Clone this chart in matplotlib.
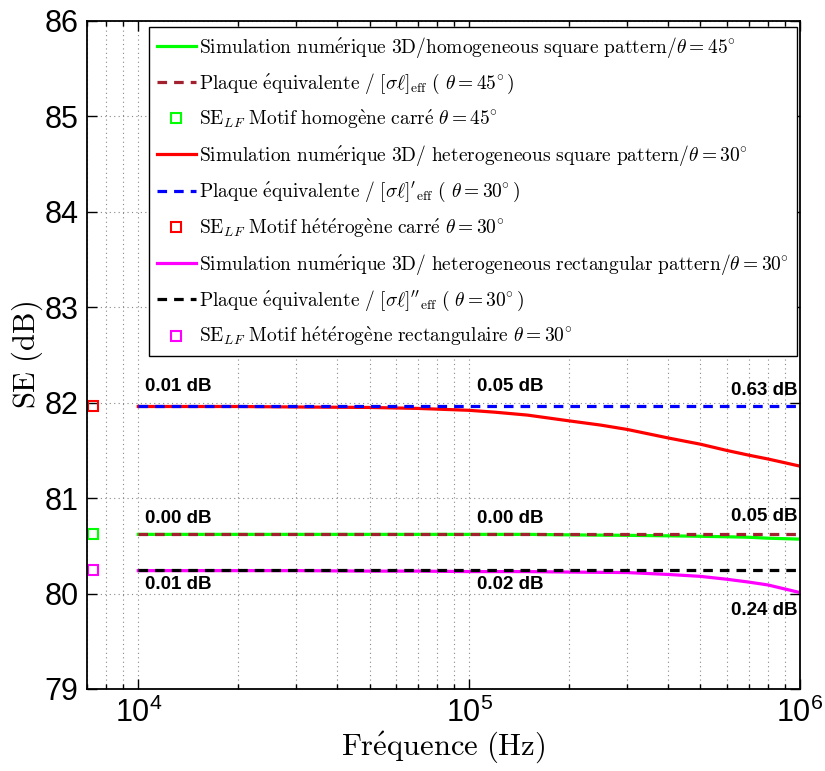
import numpy as np
import matplotlib
matplotlib.use("Agg")
import matplotlib.pyplot as plt
from matplotlib.ticker import FixedLocator, NullFormatter

plt.rcParams['mathtext.fontset'] = 'cm'
plt.rcParams['axes.unicode_minus'] = False

# frequency points (Hz)
freq = [1e4, 2e4, 3e4, 5e4, 7e4, 1e5, 1.2e5, 1.5e5, 2e5, 2.5e5, 3e5, 4e5, 5e5, 6e5, 7e5, 8e5, 1e6]

# homogeneous square pattern, theta = 45
se_hom_sim = [80.62, 80.62, 80.62, 80.62, 80.62, 80.62, 80.62, 80.62, 80.615, 80.612, 80.61,
              80.605, 80.60, 80.595, 80.59, 80.58, 80.57]
se_hom_eq = 80.62
se_hom_lf = 80.62

# heterogeneous square pattern, theta = 30
se_het_sim = [81.96, 81.96, 81.955, 81.95, 81.94, 81.92, 81.90, 81.87, 81.81, 81.765, 81.72,
              81.63, 81.565, 81.50, 81.45, 81.41, 81.335]
se_het_eq = 81.97
se_het_lf = 81.97

# heterogeneous rectangular pattern, theta = 30
se_rect_sim = [80.24, 80.24, 80.24, 80.235, 80.235, 80.23, 80.23, 80.23, 80.225, 80.222, 80.22,
               80.20, 80.18, 80.15, 80.12, 80.09, 80.01]
se_rect_eq = 80.25
se_rect_lf = 80.25

f_lf = 7300
f_min, f_max = 7000, 1e6

# relative gaps written on the plot
gap_het = ['0.01 dB', '0.05 dB', '0.63 dB']
gap_hom = ['0.00 dB', '0.00 dB', '0.05 dB']
gap_rect = ['0.01 dB', '0.02 dB', '0.24 dB']


def rm(s):
    # plain words -> computer modern roman through mathtext
    s = s.replace(' ', r'\ ').replace('é', r'\acute{e}').replace('è', r'\grave{e}')
    return r'\mathrm{' + s + '}'


t45 = r'\theta = 45\!^\circ'
t30 = r'\theta = 30\!^\circ'
labels = [
    '$' + rm('Simulation numérique 3D/homogeneous square pattern/') + t45 + '$',
    '$' + rm('Plaque équivalente / ') + r'[\sigma\ell]_{\rm eff}' + rm(' ( ') + t45 + ')$',
    r'$\mathrm{SE}_{LF}' + rm(' Motif homogène carré ') + t45 + '$',
    '$' + rm('Simulation numérique 3D/ heterogeneous square pattern/') + t30 + '$',
    '$' + rm('Plaque équivalente / ') + r"[\sigma\ell]'_{\rm eff}" + rm(' ( ') + t30 + ')$',
    r'$\mathrm{SE}_{LF}' + rm(' Motif hétérogène carré ') + t30 + '$',
    '$' + rm('Simulation numérique 3D/ heterogeneous rectangular pattern/') + t30 + '$',
    '$' + rm('Plaque équivalente / ') + r"[\sigma\ell]''_{\rm eff}" + rm(' ( ') + t30 + ')$',
    r'$\mathrm{SE}_{LF}' + rm(' Motif hétérogène rectangulaire ') + t30 + '$',
]

fig = plt.figure(figsize=(8.25, 7.71), dpi=100)
ax = fig.add_axes([0.1055, 0.1064, 0.8642, 0.8664])

lw = 2.3
dash = (3.0, 2.2)
brown = '#A3202E'

ax.plot(freq, se_hom_sim, color=(0, 1, 0), lw=lw, label=labels[0])
ax.plot([freq[0], freq[-1]], [se_hom_eq, se_hom_eq], color=brown, lw=lw, dashes=dash, label=labels[1])
ax.plot([f_lf], [se_hom_lf], 's', color=(0, 1, 0), mfc='none', ms=7, mew=1.5, clip_on=False,
        label=labels[2])

ax.plot(freq, se_het_sim, color='red', lw=lw, label=labels[3])
ax.plot([freq[0], freq[-1]], [se_het_eq, se_het_eq], color='blue', lw=lw, dashes=dash, label=labels[4])
ax.plot([f_lf], [se_het_lf], 's', color='red', mfc='none', ms=7, mew=1.5, clip_on=False,
        label=labels[5])

ax.plot(freq, se_rect_sim, color='magenta', lw=lw, label=labels[6])
ax.plot([freq[0], freq[-1]], [se_rect_eq, se_rect_eq], color='black', lw=lw, dashes=dash, label=labels[7])
ax.plot([f_lf], [se_rect_lf], 's', color='magenta', mfc='none', ms=7, mew=1.5, clip_on=False,
        label=labels[8])

ax.set_xscale('log')
ax.set_xlim(f_min, f_max)
ax.set_ylim(79, 86)

ax.xaxis.set_major_locator(FixedLocator([1e4, 1e5, 1e6]))
ax.set_xticklabels([r'$\mathregular{10^{4}}$', r'$\mathregular{10^{5}}$', r'$\mathregular{10^{6}}$'])
minors = [m * d for d in [1e3, 1e4, 1e5] for m in range(2, 10)]
ax.xaxis.set_minor_locator(FixedLocator([v for v in minors if f_min <= v <= f_max]))
ax.xaxis.set_minor_formatter(NullFormatter())
ax.set_yticks(range(79, 87))

for lab in ax.get_xticklabels() + ax.get_yticklabels():
    lab.set_family('Liberation Sans')
    lab.set_fontsize(22)

ax.tick_params(which='both', direction='in', top=True, right=True, width=1)
ax.tick_params(which='major', length=7, pad=6)
ax.tick_params(which='minor', length=3.5)
ax.grid(True, which='major', ls=(0, (1, 3)), color='#888888', lw=0.8)
ax.grid(True, which='minor', axis='x', ls=(0, (1, 3)), color='#888888', lw=0.8)
for s in ax.spines.values():
    s.set_linewidth(1.3)

ax.set_xlabel('$' + rm('Fréquence (Hz)') + '$', fontsize=22, labelpad=1)
ax.set_ylabel('$' + rm('SE (dB)') + '$', fontsize=22, labelpad=0)

bold = dict(family='Liberation Sans', fontweight='bold', fontsize=13.5, va='center')
ax.text(1.05e4, 82.17, gap_het[0], ha='left', **bold)
ax.text(1.057e5, 82.17, gap_het[1], ha='left', **bold)
ax.text(9.8e5, 82.13, gap_het[2], ha='right', **bold)
ax.text(1.05e4, 80.785, gap_hom[0], ha='left', **bold)
ax.text(1.057e5, 80.785, gap_hom[1], ha='left', **bold)
ax.text(9.8e5, 80.81, gap_hom[2], ha='right', **bold)
ax.text(1.05e4, 80.095, gap_rect[0], ha='left', **bold)
ax.text(1.057e5, 80.095, gap_rect[1], ha='left', **bold)
ax.text(9.8e5, 79.82, gap_rect[2], ha='right', **bold)

leg = ax.legend(loc='upper right', bbox_to_anchor=(0.996, 0.991),
                prop={'size': 14},
                handlelength=2.0, handletextpad=0.2, labelspacing=0.62,
                borderpad=0.4, borderaxespad=0, fancybox=False, framealpha=1)
leg.get_frame().set_edgecolor('black')
leg.get_frame().set_linewidth(1.0)

fig.savefig('out.png', dpi=100)
